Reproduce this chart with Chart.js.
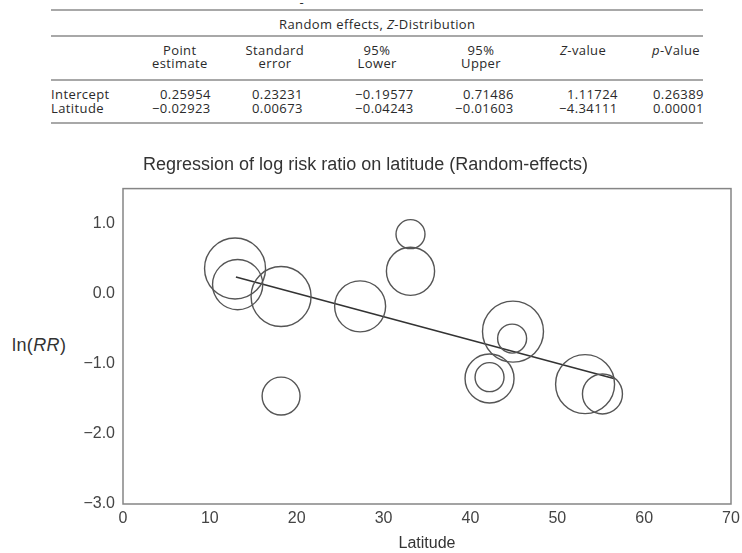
<!DOCTYPE html>
<html>
<head>
<meta charset="utf-8">
<script src="https://cdn.jsdelivr.net/npm/chart.js@4"></script>
<style>
  html, body { margin: 0; padding: 0; background: #fff; }
  #page { position: relative; width: 742px; height: 553px; overflow: hidden; }
  .tx { position: absolute; font-family: "Open Sans", sans-serif; font-size: 13px; letter-spacing: 0.4px;
        color: #2a2a2a; line-height: 14px; white-space: nowrap; }
  .rule { position: absolute; left: 51px; width: 652px; height: 2px; background: #a8a8a8; }
  #yTitle { position: absolute; left: 12px; top: 334px; font-family: "Liberation Sans", Arial, sans-serif;
            font-size: 18px; letter-spacing: 0.4px; color: #333; line-height: 22px; }
  #chartWrap { position: absolute; left: 0; top: 130px; }
</style>
</head>
<body>
<div id="page">
  <div id="tbl"></div>
  <div id="yTitle">ln(<i>RR</i>)</div>
  <div id="chartWrap"><canvas id="metaChart" width="742" height="423"></canvas></div>
</div>
<script>
// table contents
const tableCaption = 'Random effects, <i>Z</i>-Distribution';
const headTop = ['Point', 'Standard', '95%', '95%', '<i>Z</i>-value', '<i>p</i>-Value'];
const headBottom = ['estimate', 'error', 'Lower', 'Upper', '', ''];
const rowLabels = ['Intercept', 'Latitude'];
const interceptRow = ['0.25954', '0.23231', '\u22120.19577', '0.71486', '1.11724', '0.26389'];
const latitudeRow = ['\u22120.02923', '0.00673', '\u22120.04243', '\u22120.01603', '\u22124.34111', '0.00001'];

// chart data: one bubble per study
const latitude = [12.9, 13.2, 18.2, 27.3, 33.1, 33.1, 44.9, 44.8, 42.2, 42.2, 53.2, 55.2, 18.2];
const lnRR     = [0.36, 0.13, -0.04, -0.18, 0.85, 0.32, -0.54, -0.64, -1.21, -1.19, -1.29, -1.43, -1.46];
const weight   = [9.3, 6.3, 9.0, 6.5, 2.1, 5.8, 9.3, 2.1, 6.0, 2.1, 8.7, 4.0, 3.6];
// fitted regression line as drawn
const fitLatitude = [13, 56.5];
const fitLnRR = [0.24, -1.21];
const xTicks = [0, 10, 20, 30, 40, 50, 60, 70];
const yTicks = [-3, -2, -1, 0, 1];

// --- table layout ---
const colRight = [211, 303, 414, 514, 618, 704];
const headCenter = [180, 275, 377, 481, 583, 676];
const tbl = document.getElementById('tbl');

function addText(html, x, yc, align) {
    const d = document.createElement('div');
    d.className = 'tx';
    d.innerHTML = html;
    d.style.top = (yc - 7) + 'px';
    tbl.appendChild(d);
    const w = d.offsetWidth;
    if (align === 'center') d.style.left = (x - w / 2) + 'px';
    else if (align === 'right') d.style.left = (x - w) + 'px';
    else d.style.left = x + 'px';
}
function addRule(y) {
    const r = document.createElement('div');
    r.className = 'rule';
    r.style.top = (y - 1) + 'px';
    tbl.appendChild(r);
}

addText('-', 302, 2, 'center');
addRule(10);
addText(tableCaption, 377, 24, 'center');
addRule(36);
headTop.forEach((h, i) => addText(h, headCenter[i], 50, 'center'));
headBottom.forEach((h, i) => { if (h) addText(h, headCenter[i], 63, 'center'); });
addRule(80);
[interceptRow, latitudeRow].forEach((row, r) => {
    const yc = 94 + r * 14;
    addText(rowLabels[r], 51, yc, 'left');
    row.forEach((v, i) => addText(v, colRight[i], yc, 'right'));
});
addRule(123);

// --- chart ---
const frame = {
    id: 'frame',
    beforeDatasetsDraw(chart) {
        const a = chart.chartArea, ctx = chart.ctx;
        ctx.save();
        ctx.strokeStyle = '#858585';
        ctx.lineWidth = 1.5;
        ctx.strokeRect(a.left, a.top, a.right - a.left, a.bottom - a.top);
        ctx.restore();
    }
};

const fmt = v => (v < 0 ? '\u2212' : '') + Math.abs(v).toFixed(1);

new Chart(document.getElementById('metaChart').getContext('2d'), {
    type: 'bubble',
    data: {
        datasets: [{
            type: 'bubble',
            data: latitude.map((x, i) => ({ x: x, y: lnRR[i], r: 10 * Math.sqrt(weight[i]) })),
            backgroundColor: 'rgba(0,0,0,0)',
            borderColor: '#555',
            borderWidth: 1.4,
            hoverRadius: 0,
            clip: false
        }, {
            type: 'line',
            data: fitLatitude.map((x, i) => ({ x: x, y: fitLnRR[i] })),
            borderColor: '#333',
            borderWidth: 1.6,
            pointRadius: 0,
            fill: false
        }]
    },
    options: {
        responsive: false,
        devicePixelRatio: 1,
        animation: false,
        layout: { autoPadding: false, padding: { left: 0, right: 11, top: 0, bottom: 0 } },
        plugins: {
            legend: { display: false },
            tooltip: { enabled: false },
            title: {
                display: true,
                text: 'Regression of log risk ratio on latitude (Random-effects)',
                color: '#333',
                font: { family: 'Liberation Sans', size: 18, weight: 'normal' },
                padding: { top: 24, bottom: 13 }
            }
        },
        scales: {
            x: {
                type: 'linear',
                min: 0,
                max: 70,
                grid: { display: false, drawTicks: false },
                border: { display: false },
                afterBuildTicks: s => { s.ticks = xTicks.map(v => ({ value: v })); },
                afterFit: s => { s.height = 49; s.paddingLeft = 0; s.paddingRight = 0; },
                ticks: {
                    padding: 5,
                    color: '#444',
                    font: { family: 'Liberation Sans', size: 16 },
                    callback: v => String(v)
                },
                title: {
                    display: true,
                    text: 'Latitude',
                    color: '#333',
                    font: { family: 'Liberation Sans', size: 16 },
                    padding: { top: 0, bottom: 0 }
                }
            },
            y: {
                type: 'linear',
                min: -3,
                max: 1.5,
                grid: { display: false, drawTicks: false },
                border: { display: false },
                afterBuildTicks: s => { s.ticks = yTicks.map(v => ({ value: v })); },
                afterFit: s => { s.width = 123; s.paddingTop = 0; s.paddingBottom = 0; },
                ticks: {
                    padding: 8,
                    color: '#444',
                    font: { family: 'Liberation Sans', size: 16 },
                    callback: v => fmt(v)
                }
            }
        }
    },
    plugins: [frame]
});
</script>
</body>
</html>
